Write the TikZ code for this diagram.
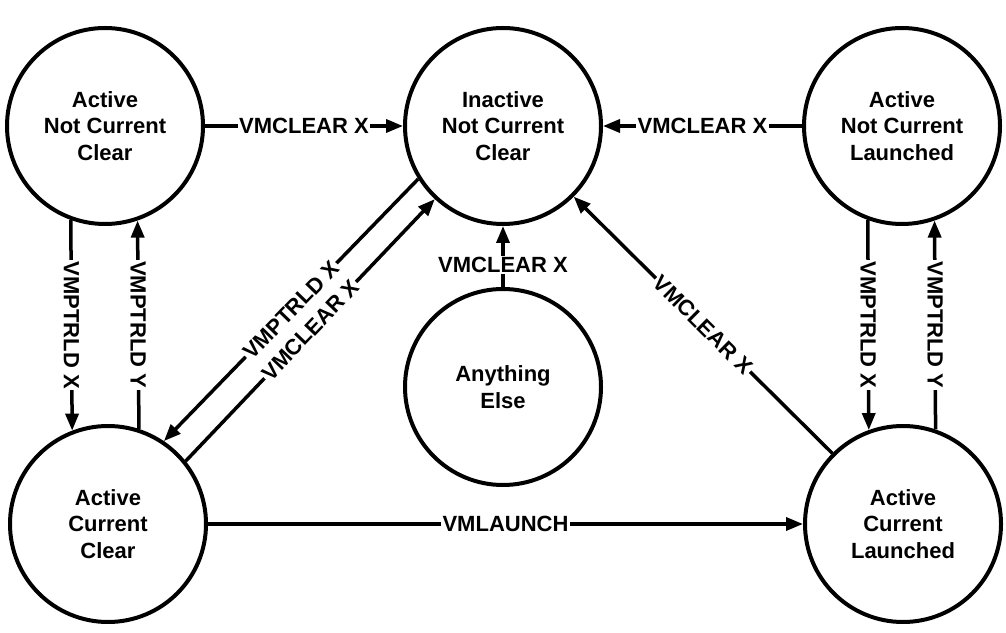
\documentclass[tikz,border=0pt]{standalone}
\usepackage{fontspec}
\setmainfont{Liberation Sans}
\usetikzlibrary{arrows.meta}
\begin{document}
\begin{tikzpicture}[x=1pt,y=1pt,
  state/.style={circle, draw, line width=4pt, minimum size=196pt, inner sep=0pt, align=center,
    font=\fontsize{22}{26.5}\selectfont\bfseries},
  conn/.style={line width=3.5pt, -{Triangle[length=17pt,width=13pt]}},
  plainconn/.style={line width=3.5pt},
  lbl/.style={fill=white, inner sep=1.5pt, font=\fontsize{22}{26}\selectfont\bfseries}
]
\useasboundingbox (0,0) rectangle (1006,632);
\node[state] (anc) at (105,506) {Active\\Not Current\\Clear};
\node[state] (inc) at (503,506) {Inactive\\Not Current\\Clear};
\node[state] (anl) at (902,506) {Active\\Not Current\\Launched};
\node[state] (any) at (503,245) {Anything\\Else};
\node[state] (acc) at (108,108) {Active\\Current\\Clear};
\node[state] (acl) at (903,108) {Active\\Current\\Launched};

% top horizontal
\draw[conn] (anc.east) -- node[lbl]{VMCLEAR X} (inc.west);
\draw[conn] (anl.west) -- node[lbl]{VMCLEAR X} (inc.east);

% left verticals
\draw[conn] (anc.250.5) -- node[lbl, rotate=-90]{VMPTRLD X} (acc.111.3);
\draw[conn] (acc.72.4) -- node[lbl, rotate=-90]{VMPTRLD Y} (anc.289.5);

% right verticals
\draw[conn] (anl.250.5) -- node[lbl, rotate=-90]{VMPTRLD X} (acl.110.1);
\draw[conn] (acl.71.1) -- node[lbl, rotate=-90]{VMPTRLD Y} (anl.289.5);

% middle
\draw[conn] (any.north) -- node[lbl, pos=0.36]{VMCLEAR X} (inc.south);

% diagonals
\draw[conn] (inc.212) -- node[lbl, sloped]{VMPTRLD X} (acc.56);
\draw[conn] (acc.39) -- node[lbl, sloped]{VMCLEAR X} (inc.227);
\draw[conn] (acl.135) -- node[lbl, sloped]{VMCLEAR X} (inc.-45);

% bottom
\draw[conn] (acc.east) -- node[lbl]{VMLAUNCH} (acl.west);
\end{tikzpicture}
\end{document}
